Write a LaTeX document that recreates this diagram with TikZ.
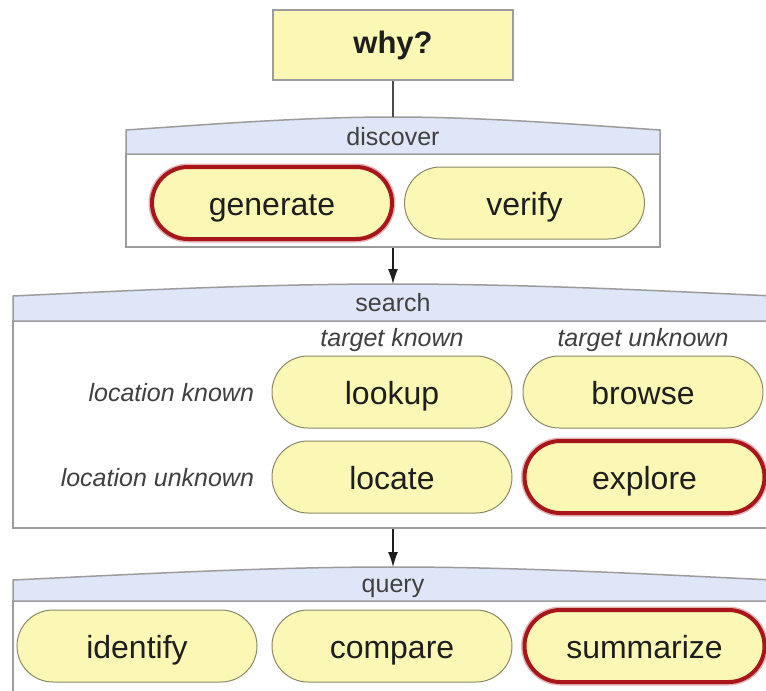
\documentclass[tikz,border=0pt]{standalone}
\usepackage{fontspec}
\setmainfont{Liberation Sans}
\usetikzlibrary{positioning,shapes.misc,arrows.meta}
\definecolor{pillfill}{HTML}{FBF7B4}
\definecolor{pillline}{HTML}{8C8A66}
\definecolor{tabfill}{HTML}{DEE6F7}
\definecolor{boxline}{HTML}{9C9C9C}
\definecolor{pickred}{HTML}{A8161C}
\definecolor{ink}{HTML}{1E1E1E}
\begin{document}
\begin{tikzpicture}[x=1pt,y=-1pt,
	pill/.style={rounded rectangle, draw=pillline, line width=1, fill=pillfill,
		minimum width=240, minimum height=72, inner sep=0, text=ink,
		text height=27, text depth=3, font=\fontsize{32}{36}\selectfont},
	picked/.style={draw=pickred, line width=4,
		preaction={draw=pickred!70, line width=7, opacity=0.45}},
	panel/.style={rectangle, draw=boxline, line width=1.5, fill=white, inner sep=0},
	tab/.style={draw=boxline, line width=1.5, fill=tabfill},
	tabtext/.style={text=ink!85, text height=18, text depth=6,
		font=\fontsize{25}{30}\selectfont},
	side/.style={text=ink!85, text height=21, text depth=3,
		font=\fontsize{25}{30}\selectfont\itshape},
	arrow/.style={draw=ink, line width=1.3, -{Latex[length=15,width=10]}}]
	\clip (0,0) rectangle (766,691);
	\fill[white] (0,0) rectangle (766,691);

	%why
	\node[rectangle, draw=boxline, line width=1.5, fill=pillfill, minimum width=240,
		minimum height=70, text=ink, font=\fontsize{31}{36}\selectfont\bfseries]
		(why) at (393,45) {why?};

	%discover
	\node[panel, minimum width=534, minimum height=93] (discoverbox) at (393,200.5) {};
	\draw[tab] (126,154) -- (126,130) .. controls (215,124) and (305,117) .. (393,117)
		.. controls (481,117) and (571,124) .. (660,130) -- (660,154) -- cycle;
	\coordinate (discovertop) at (393,117);
	\node[tabtext] (discoverlabel) at (393,139) {discover};
	\node[pill, picked] (generate) at (272,203) {generate};
	\node[pill] (verify) [right=10pt of generate] {verify};

	%search
	\node[panel, minimum width=760, minimum height=207] (searchbox) at (393,424.5) {};
	\draw[tab] (13,321) -- (13,296) .. controls (140,290) and (266,284) .. (393,284)
		.. controls (520,284) and (646,290) .. (773,296) -- (773,321) -- cycle;
	\coordinate (searchtop) at (393,284);
	\node[tabtext] (searchlabel) at (393,305) {search};
	\node[pill] (lookup) at (392,392) {lookup};
	\node[pill] (browse) [right=10pt of lookup] {browse};
	\node[pill] (locate) [below=12pt of lookup] {locate};
	\node[pill, picked] (explore) [right=10pt of locate] {explore};
	\node[side] (targetknown) [above=2pt of lookup] {target known};
	\node[side] (targetunknown) [above=2pt of browse] {target unknown};
	\node[side] (locknown) [left=14pt of lookup] {location known};
	\node[side] (locunknown) [left=14pt of locate] {location unknown};

	%query
	\node[panel, minimum width=760, minimum height=119] (querybox) at (393,660.5) {};
	\draw[tab] (13,601) -- (13,580) .. controls (140,574) and (266,567) .. (393,567)
		.. controls (520,567) and (646,574) .. (773,580) -- (773,601) -- cycle;
	\coordinate (querytop) at (393,567);
	\node[tabtext] (querylabel) at (393,586) {query};
	\node[pill] (compare) at (392,646) {compare};
	\node[pill] (identify) [left=14pt of compare] {identify};
	\node[pill, picked] (summarize) [right=10pt of compare] {summarize};

	%links
	\draw[draw=ink!80, line width=1.3] (why) -- (discovertop);
	\draw[arrow] (discoverbox) -- (searchtop);
	\draw[arrow] (searchbox) -- (querytop);
\end{tikzpicture}
\end{document}
